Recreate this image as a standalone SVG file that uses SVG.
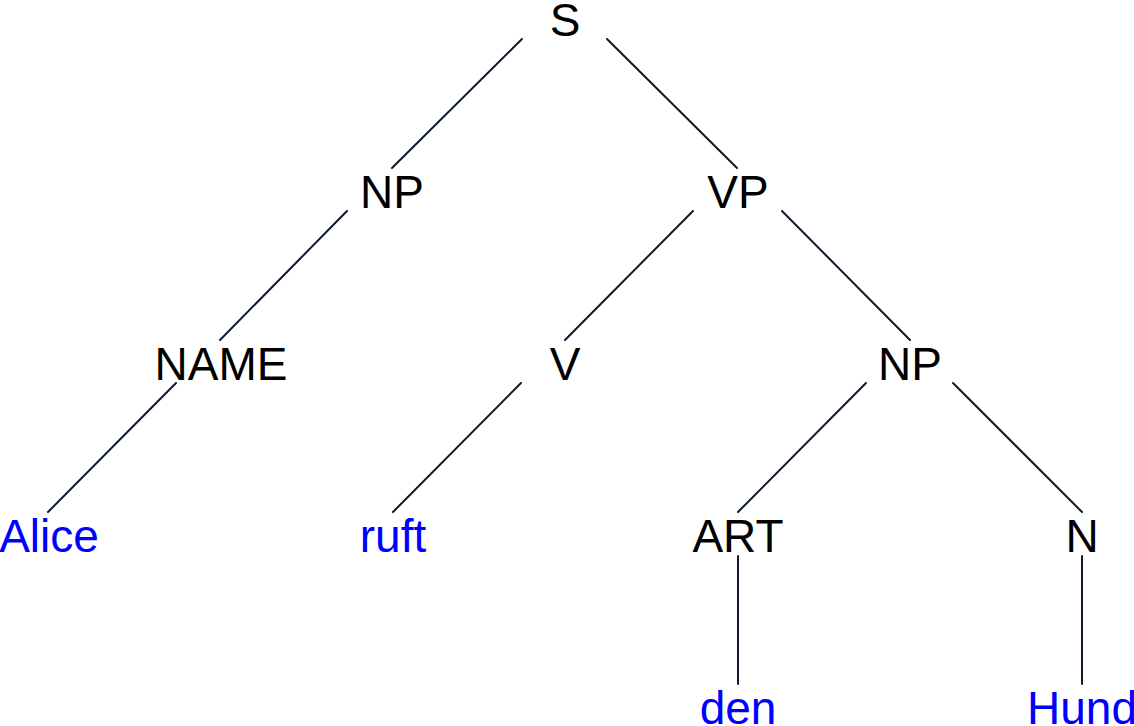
<svg xmlns="http://www.w3.org/2000/svg" width="1134" height="726" viewBox="0 0 1134 726">
<style>
.cat{font-family:"Liberation Sans",Arial,sans-serif;font-size:46px;fill:#000;text-anchor:middle}
.word{font-family:"Liberation Sans",Arial,sans-serif;font-size:46px;fill:#0000ff;text-anchor:middle}
.edge{stroke:#0d1a2b;stroke-width:2;fill:none;stroke-linecap:round}
</style>
<rect width="1134" height="726" fill="#fff"/>
<g id="connectors">
<line class="edge" x1="522" y1="39" x2="392" y2="168"/>
<line class="edge" x1="607" y1="39" x2="737" y2="168"/>
<line class="edge" x1="347" y1="211" x2="220" y2="340"/>
<line class="edge" x1="693" y1="211" x2="565" y2="340"/>
<line class="edge" x1="782" y1="211" x2="910" y2="340"/>
<line class="edge" x1="176" y1="383" x2="48" y2="512"/>
<line class="edge" x1="521" y1="383" x2="393" y2="512"/>
<line class="edge" x1="866" y1="383" x2="738" y2="512"/>
<line class="edge" x1="953" y1="383" x2="1082" y2="512"/>
<line class="edge" x1="738" y1="556" x2="738" y2="684"/>
<line class="edge" x1="1082" y1="556" x2="1082" y2="684"/>
</g>
<g id="S"><text class="cat" x="565" y="36">S</text></g>
<g id="NP1"><text class="cat" x="392" y="208">NP</text></g>
<g id="VP"><text class="cat" x="738" y="208">VP</text></g>
<g id="NAME"><text class="cat" x="221" y="380">NAME</text></g>
<g id="V"><text class="cat" x="565" y="380">V</text></g>
<g id="NP2"><text class="cat" x="910" y="380">NP</text></g>
<g id="Alice"><text class="word" x="49" y="552">Alice</text></g>
<g id="ruft"><text class="word" x="393" y="552">ruft</text></g>
<g id="ART"><text class="cat" x="738" y="552">ART</text></g>
<g id="N"><text class="cat" x="1082" y="552">N</text></g>
<g id="den"><text class="word" x="738" y="724">den</text></g>
<g id="Hund"><text class="word" x="1082" y="724">Hund</text></g>
</svg>
